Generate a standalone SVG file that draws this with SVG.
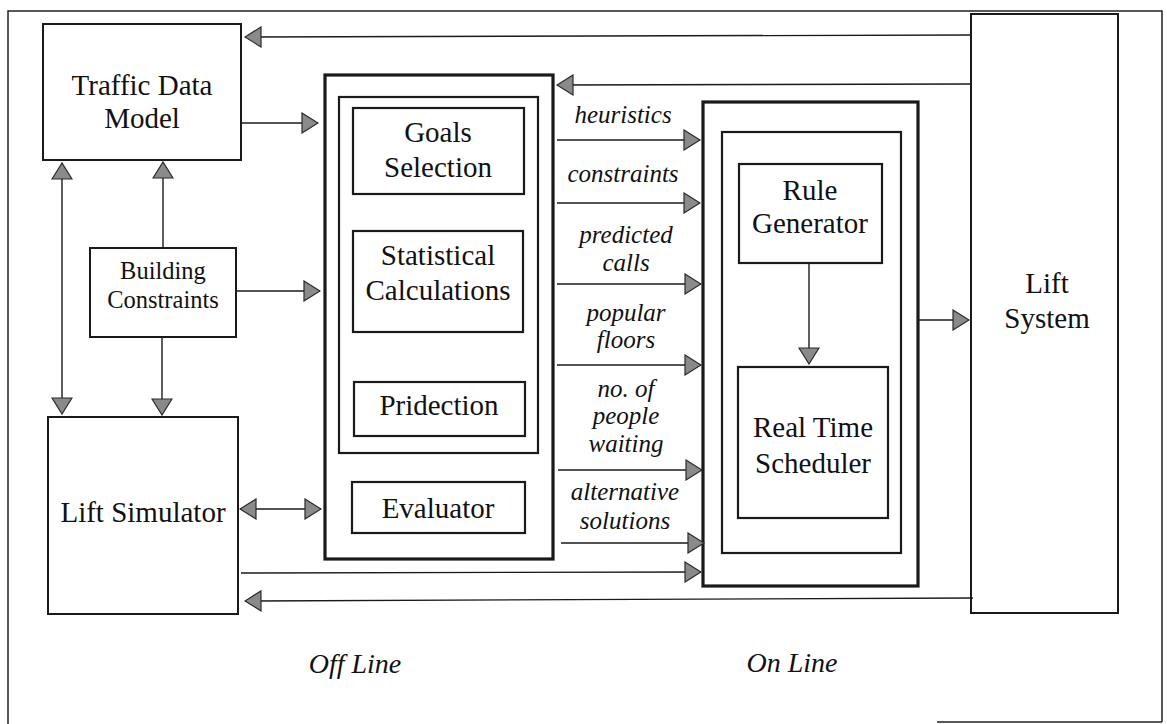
<svg xmlns="http://www.w3.org/2000/svg" width="1167" height="724" viewBox="0 0 1167 724">
<style>
  .bg { fill: #ffffff; }
  .frame { fill: none; stroke: #222; stroke-width: 1.5; }
  .box { fill: none; stroke: #1a1a1a; stroke-width: 2; }
  .thick { fill: none; stroke: #1a1a1a; stroke-width: 3.2; }
  .mid { fill: none; stroke: #1a1a1a; stroke-width: 2.2; }
  text { font-family: 'Liberation Serif', 'DejaVu Serif', serif; fill: #111; text-anchor: middle; }
  .t { font-size: 29px; }
  .ts { font-size: 24.5px; }
  .ti { font-size: 25px; font-style: italic; }
  .tl { font-size: 28px; font-style: italic; }
  .c { fill: none; stroke: #1a1a1a; stroke-width: 1.4; marker-end: url(#ah); }
  .cc { fill: none; stroke: #1a1a1a; stroke-width: 1.4; marker-start: url(#ah); marker-end: url(#ah); }
</style>
<defs>
  <marker id="ah" markerUnits="userSpaceOnUse" markerWidth="18" markerHeight="22" viewBox="0 0 18 22" refX="17" refY="11" orient="auto-start-reverse">
    <path d="M1,1 L17,11 L1,21 Z" fill="#8a8a8a" stroke="#2a2a2a" stroke-width="1.2"/>
  </marker>
</defs>
<rect class="bg" x="0" y="0" width="1167" height="724"/>
<path class="frame" d="M8,724 V11 H1162 V722 M937,722 H1162"/>

<g id="traffic-data-model">
  <rect class="box" x="43" y="24" width="198" height="136"/>
  <text class="t" x="142" y="95" font-family="Liberation Serif, DejaVu Serif, serif">Traffic Data</text>
  <text class="t" x="142" y="128" font-family="Liberation Serif, DejaVu Serif, serif">Model</text>
</g>
<g id="building-constraints">
  <rect class="box" x="90" y="248" width="146" height="89"/>
  <text class="ts" x="163" y="279">Building</text>
  <text class="ts" x="163" y="308">Constraints</text>
</g>
<g id="lift-simulator">
  <rect class="box" x="48" y="417" width="190" height="197"/>
  <text class="t" x="143" y="522">Lift Simulator</text>
</g>
<g id="offline-outer">
  <rect class="thick" x="325" y="75" width="228" height="484"/>
</g>
<g id="offline-inner">
  <rect class="mid" x="339" y="97" width="199" height="356"/>
</g>
<g id="goals-selection">
  <rect class="mid" x="353" y="108" width="171" height="86"/>
  <text class="t" x="438" y="142">Goals</text>
  <text class="t" x="438" y="177">Selection</text>
</g>
<g id="statistical-calculations">
  <rect class="mid" x="353" y="231" width="170" height="101"/>
  <text class="t" x="438" y="265">Statistical</text>
  <text class="t" x="438" y="300">Calculations</text>
</g>
<g id="pridection">
  <rect class="mid" x="354" y="382" width="171" height="54"/>
  <text class="t" x="439" y="415">Pridection</text>
</g>
<g id="evaluator">
  <rect class="mid" x="352" y="482" width="173" height="51"/>
  <text class="t" x="438" y="518">Evaluator</text>
</g>
<g id="online-outer">
  <rect class="thick" x="703" y="102" width="215" height="484"/>
</g>
<g id="online-inner">
  <rect class="mid" x="722" y="132" width="179" height="421"/>
</g>
<g id="rule-generator">
  <rect class="mid" x="739" y="164" width="143" height="99"/>
  <text class="t" x="810" y="200">Rule</text>
  <text class="t" x="810" y="233">Generator</text>
</g>
<g id="real-time-scheduler">
  <rect class="mid" x="738" y="367" width="150" height="151"/>
  <text class="t" x="813" y="437">Real Time</text>
  <text class="t" x="813" y="473">Scheduler</text>
</g>
<g id="lift-system">
  <rect class="box" x="971" y="14" width="147" height="599"/>
  <text class="t" x="1047" y="293">Lift</text>
  <text class="t" x="1047" y="328">System</text>
</g>

<g id="connectors">
  <line class="c" x1="971" y1="35" x2="245" y2="37"/>
  <line class="c" x1="971" y1="84" x2="557" y2="85"/>
  <line class="c" x1="241" y1="123" x2="318" y2="123"/>
  <line class="cc" x1="62" y1="163" x2="62" y2="414"/>
  <line class="c" x1="163" y1="248" x2="163" y2="162"/>
  <line class="c" x1="162" y1="337" x2="162" y2="415"/>
  <line class="c" x1="236" y1="291" x2="320" y2="291"/>
  <line class="cc" x1="240" y1="509" x2="321" y2="509"/>
  <line class="c" x1="241" y1="573" x2="701" y2="572"/>
  <line class="c" x1="973" y1="598" x2="245" y2="601"/>
  <line class="c" x1="557" y1="140" x2="700" y2="140"/>
  <line class="c" x1="557" y1="203" x2="700" y2="203"/>
  <line class="c" x1="557" y1="284" x2="701" y2="284"/>
  <line class="c" x1="557" y1="365" x2="701" y2="365"/>
  <line class="c" x1="558" y1="470" x2="702" y2="470"/>
  <line class="c" x1="561" y1="543" x2="704" y2="543"/>
  <line class="c" x1="809" y1="263" x2="809" y2="364"/>
  <line class="c" x1="918" y1="320" x2="969" y2="320"/>
</g>

<g id="labels">
  <text class="ti" x="623" y="123">heuristics</text>
  <text class="ti" x="623" y="182">constraints</text>
  <text class="ti" x="626" y="243">predicted</text>
  <text class="ti" x="626" y="271">calls</text>
  <text class="ti" x="626" y="321">popular</text>
  <text class="ti" x="626" y="348">floors</text>
  <text class="ti" x="626" y="397">no. of</text>
  <text class="ti" x="626" y="424">people</text>
  <text class="ti" x="626" y="452">waiting</text>
  <text class="ti" x="625" y="500">alternative</text>
  <text class="ti" x="625" y="529">solutions</text>
  <text class="tl" x="355" y="673">Off Line</text>
  <text class="tl" x="792" y="672">On Line</text>
</g>
</svg>
